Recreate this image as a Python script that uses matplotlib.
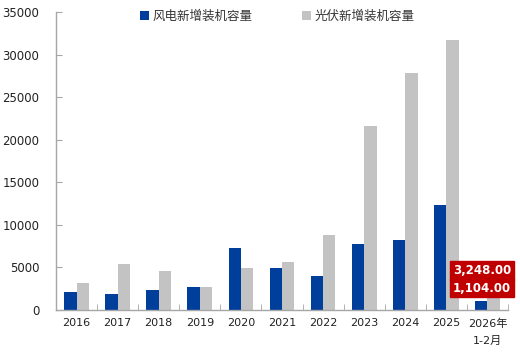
import matplotlib
matplotlib.use("Agg")
import matplotlib.pyplot as plt
import numpy as np

categories = ["2016", "2017", "2018", "2019", "2020", "2021", "2022",
              "2023", "2024", "2025", "2026年\n1-2月"]
wind = [2140, 1870, 2300, 2730, 7340, 4880, 3940, 7730, 8200, 12300, 1104]
solar = [3200, 5390, 4570, 2730, 4880, 5580, 8800, 21660, 27870, 31770, 3248]
series_names = ["风电新增装机容量", "光伏新增装机容量"]
yticks = [0, 5000, 10000, 15000, 20000, 25000, 30000, 35000]

BLUE = "#003E9B"
GRAY = "#C3C3C3"
RED = "#C00000"
AXC = "#A6A6A6"

plt.rcParams['font.family'] = ['DejaVu Sans', 'Noto Sans CJK SC']

fig = plt.figure(figsize=(5.2, 3.54), dpi=100)
ax = fig.add_axes([56/520, 1-310/354, 452/520, 298/354])

x = np.arange(len(categories))
w = 0.30
ax.bar(x - w/2, wind, width=w, color=BLUE, label=series_names[0])
ax.bar(x + w/2, solar, width=w, color=GRAY, label=series_names[1])

ax.set_xlim(-0.5, len(categories) - 0.5)
ax.set_ylim(0, 35000)
ax.set_yticks(yticks)
ax.set_yticklabels([str(v) for v in yticks], fontsize=8.5, color="#222222")
ax.set_xticks(x)
ax.set_xticklabels(categories, fontsize=8, color="#222222",
                   family=['DejaVu Sans', 'Noto Sans CJK SC'], linespacing=1.9)
ax.set_xticks(np.arange(len(categories)) + 0.5, minor=True)
ax.tick_params(axis='x', which='major', length=0, pad=6)
ax.tick_params(axis='x', which='minor', direction='in', length=4, color=AXC)
ax.tick_params(axis='y', direction='in', length=4, color=AXC, pad=12)

for s in ["top", "right"]:
    ax.spines[s].set_visible(False)
for s in ["left", "bottom"]:
    ax.spines[s].set_color(AXC)
    ax.spines[s].set_linewidth(1.0)

# red data labels for the last category
last = len(categories) - 1
for val, yoff in [(solar[last], 4680), (wind[last], 2580)]:
    ax.text(last - 0.13, yoff, f"{val:,.2f}", ha="center", va="center",
            fontsize=8.5, fontweight="bold", color="white",
            bbox=dict(boxstyle="square,pad=0.25", fc=RED, ec=RED))

leg = ax.legend(loc="upper center", bbox_to_anchor=(0.49, 1.045), ncol=2,
                frameon=False, handlelength=0.7, handleheight=0.7,
                handletextpad=0.3, columnspacing=4.0,
                prop={'family': ['Noto Sans CJK SC'], 'size': 9})
for t in leg.get_texts():
    t.set_color("#333333")

fig.savefig("out.png", dpi=100)
